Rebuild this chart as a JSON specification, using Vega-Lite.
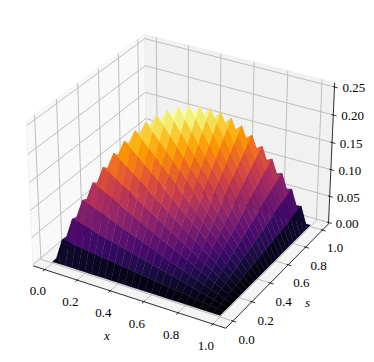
{"$schema":"https://vega.github.io/schema/vega-lite/v6.json","width":374,"height":362,"padding":0,"autosize":{"type":"fit","contains":"padding"},"background":"white","view":{"stroke":null},
"datasets":{"guides":[
{"kind":"pane","id":"a","k":0,"x":-0.0729,"s":-0.0729,"z":-0.0027},{"kind":"pane","id":"a","k":1,"x":-0.0729,"s":1.0729,"z":-0.0027},{"kind":"pane","id":"a","k":2,"x":-0.0729,"s":1.0729,"z":0.2578},{"kind":"pane","id":"a","k":3,"x":-0.0729,"s":-0.0729,"z":0.2578},
{"kind":"pane","id":"b","k":0,"x":-0.0729,"s":1.0729,"z":-0.0027},{"kind":"pane","id":"b","k":1,"x":1.0729,"s":1.0729,"z":-0.0027},{"kind":"pane","id":"b","k":2,"x":1.0729,"s":1.0729,"z":0.2578},{"kind":"pane","id":"b","k":3,"x":-0.0729,"s":1.0729,"z":0.2578},
{"kind":"pane","id":"c","k":0,"x":-0.0729,"s":-0.0729,"z":-0.0027},{"kind":"pane","id":"c","k":1,"x":1.0729,"s":-0.0729,"z":-0.0027},{"kind":"pane","id":"c","k":2,"x":1.0729,"s":1.0729,"z":-0.0027},{"kind":"pane","id":"c","k":3,"x":-0.0729,"s":1.0729,"z":-0.0027},
{"kind":"grid","id":"x0","k":0,"x":0,"s":-0.0729,"z":-0.0027},{"kind":"grid","id":"x0","k":1,"x":0,"s":1.0729,"z":-0.0027},{"kind":"grid","id":"x0","k":2,"x":0,"s":1.0729,"z":0.2578},
{"kind":"grid","id":"x2","k":0,"x":0.2,"s":-0.0729,"z":-0.0027},{"kind":"grid","id":"x2","k":1,"x":0.2,"s":1.0729,"z":-0.0027},{"kind":"grid","id":"x2","k":2,"x":0.2,"s":1.0729,"z":0.2578},
{"kind":"grid","id":"x4","k":0,"x":0.4,"s":-0.0729,"z":-0.0027},{"kind":"grid","id":"x4","k":1,"x":0.4,"s":1.0729,"z":-0.0027},{"kind":"grid","id":"x4","k":2,"x":0.4,"s":1.0729,"z":0.2578},
{"kind":"grid","id":"x6","k":0,"x":0.6,"s":-0.0729,"z":-0.0027},{"kind":"grid","id":"x6","k":1,"x":0.6,"s":1.0729,"z":-0.0027},{"kind":"grid","id":"x6","k":2,"x":0.6,"s":1.0729,"z":0.2578},
{"kind":"grid","id":"x8","k":0,"x":0.8,"s":-0.0729,"z":-0.0027},{"kind":"grid","id":"x8","k":1,"x":0.8,"s":1.0729,"z":-0.0027},{"kind":"grid","id":"x8","k":2,"x":0.8,"s":1.0729,"z":0.2578},
{"kind":"grid","id":"x10","k":0,"x":1,"s":-0.0729,"z":-0.0027},{"kind":"grid","id":"x10","k":1,"x":1,"s":1.0729,"z":-0.0027},{"kind":"grid","id":"x10","k":2,"x":1,"s":1.0729,"z":0.2578},
{"kind":"grid","id":"s0","k":0,"x":1.0729,"s":0,"z":-0.0027},{"kind":"grid","id":"s0","k":1,"x":-0.0729,"s":0,"z":-0.0027},{"kind":"grid","id":"s0","k":2,"x":-0.0729,"s":0,"z":0.2578},
{"kind":"grid","id":"s2","k":0,"x":1.0729,"s":0.2,"z":-0.0027},{"kind":"grid","id":"s2","k":1,"x":-0.0729,"s":0.2,"z":-0.0027},{"kind":"grid","id":"s2","k":2,"x":-0.0729,"s":0.2,"z":0.2578},
{"kind":"grid","id":"s4","k":0,"x":1.0729,"s":0.4,"z":-0.0027},{"kind":"grid","id":"s4","k":1,"x":-0.0729,"s":0.4,"z":-0.0027},{"kind":"grid","id":"s4","k":2,"x":-0.0729,"s":0.4,"z":0.2578},
{"kind":"grid","id":"s6","k":0,"x":1.0729,"s":0.6,"z":-0.0027},{"kind":"grid","id":"s6","k":1,"x":-0.0729,"s":0.6,"z":-0.0027},{"kind":"grid","id":"s6","k":2,"x":-0.0729,"s":0.6,"z":0.2578},
{"kind":"grid","id":"s8","k":0,"x":1.0729,"s":0.8,"z":-0.0027},{"kind":"grid","id":"s8","k":1,"x":-0.0729,"s":0.8,"z":-0.0027},{"kind":"grid","id":"s8","k":2,"x":-0.0729,"s":0.8,"z":0.2578},
{"kind":"grid","id":"s10","k":0,"x":1.0729,"s":1,"z":-0.0027},{"kind":"grid","id":"s10","k":1,"x":-0.0729,"s":1,"z":-0.0027},{"kind":"grid","id":"s10","k":2,"x":-0.0729,"s":1,"z":0.2578},
{"kind":"grid","id":"z0","k":0,"x":-0.0729,"s":-0.0729,"z":0},{"kind":"grid","id":"z0","k":1,"x":-0.0729,"s":1.0729,"z":0},{"kind":"grid","id":"z0","k":2,"x":1.0729,"s":1.0729,"z":0},
{"kind":"grid","id":"z5","k":0,"x":-0.0729,"s":-0.0729,"z":0.05},{"kind":"grid","id":"z5","k":1,"x":-0.0729,"s":1.0729,"z":0.05},{"kind":"grid","id":"z5","k":2,"x":1.0729,"s":1.0729,"z":0.05},
{"kind":"grid","id":"z10","k":0,"x":-0.0729,"s":-0.0729,"z":0.1},{"kind":"grid","id":"z10","k":1,"x":-0.0729,"s":1.0729,"z":0.1},{"kind":"grid","id":"z10","k":2,"x":1.0729,"s":1.0729,"z":0.1},
{"kind":"grid","id":"z15","k":0,"x":-0.0729,"s":-0.0729,"z":0.15},{"kind":"grid","id":"z15","k":1,"x":-0.0729,"s":1.0729,"z":0.15},{"kind":"grid","id":"z15","k":2,"x":1.0729,"s":1.0729,"z":0.15},
{"kind":"grid","id":"z20","k":0,"x":-0.0729,"s":-0.0729,"z":0.2},{"kind":"grid","id":"z20","k":1,"x":-0.0729,"s":1.0729,"z":0.2},{"kind":"grid","id":"z20","k":2,"x":1.0729,"s":1.0729,"z":0.2},
{"kind":"grid","id":"z25","k":0,"x":-0.0729,"s":-0.0729,"z":0.25},{"kind":"grid","id":"z25","k":1,"x":-0.0729,"s":1.0729,"z":0.25},{"kind":"grid","id":"z25","k":2,"x":1.0729,"s":1.0729,"z":0.25},
{"kind":"axis","id":"l","k":0,"x":-0.0729,"s":-0.0729,"z":-0.0027},{"kind":"axis","id":"l","k":1,"x":1.0729,"s":-0.0729,"z":-0.0027},{"kind":"axis","id":"l","k":2,"x":1.0729,"s":1.0729,"z":-0.0027},{"kind":"axis","id":"l","k":3,"x":1.0729,"s":1.0729,"z":0.2578},
{"kind":"axis","id":"tx0","k":0,"x":0,"s":-0.0634,"z":-0.0027},{"kind":"axis","id":"tx0","k":1,"x":0,"s":-0.0919,"z":-0.0027},
{"kind":"axis","id":"tx2","k":0,"x":0.2,"s":-0.0634,"z":-0.0027},{"kind":"axis","id":"tx2","k":1,"x":0.2,"s":-0.0919,"z":-0.0027},
{"kind":"axis","id":"tx4","k":0,"x":0.4,"s":-0.0634,"z":-0.0027},{"kind":"axis","id":"tx4","k":1,"x":0.4,"s":-0.0919,"z":-0.0027},
{"kind":"axis","id":"tx6","k":0,"x":0.6,"s":-0.0634,"z":-0.0027},{"kind":"axis","id":"tx6","k":1,"x":0.6,"s":-0.0919,"z":-0.0027},
{"kind":"axis","id":"tx8","k":0,"x":0.8,"s":-0.0634,"z":-0.0027},{"kind":"axis","id":"tx8","k":1,"x":0.8,"s":-0.0919,"z":-0.0027},
{"kind":"axis","id":"tx10","k":0,"x":1,"s":-0.0634,"z":-0.0027},{"kind":"axis","id":"tx10","k":1,"x":1,"s":-0.0919,"z":-0.0027},
{"kind":"axis","id":"ts0","k":0,"x":1.0634,"s":0,"z":-0.0027},{"kind":"axis","id":"ts0","k":1,"x":1.0919,"s":0,"z":-0.0027},
{"kind":"axis","id":"ts2","k":0,"x":1.0634,"s":0.2,"z":-0.0027},{"kind":"axis","id":"ts2","k":1,"x":1.0919,"s":0.2,"z":-0.0027},
{"kind":"axis","id":"ts4","k":0,"x":1.0634,"s":0.4,"z":-0.0027},{"kind":"axis","id":"ts4","k":1,"x":1.0919,"s":0.4,"z":-0.0027},
{"kind":"axis","id":"ts6","k":0,"x":1.0634,"s":0.6,"z":-0.0027},{"kind":"axis","id":"ts6","k":1,"x":1.0919,"s":0.6,"z":-0.0027},
{"kind":"axis","id":"ts8","k":0,"x":1.0634,"s":0.8,"z":-0.0027},{"kind":"axis","id":"ts8","k":1,"x":1.0919,"s":0.8,"z":-0.0027},
{"kind":"axis","id":"ts10","k":0,"x":1.0634,"s":1,"z":-0.0027},{"kind":"axis","id":"ts10","k":1,"x":1.0919,"s":1,"z":-0.0027},
{"kind":"axis","id":"tz0","k":0,"x":1.0634,"s":1.0729,"z":0},{"kind":"axis","id":"tz0","k":1,"x":1.0919,"s":1.0729,"z":0},
{"kind":"axis","id":"tz5","k":0,"x":1.0634,"s":1.0729,"z":0.05},{"kind":"axis","id":"tz5","k":1,"x":1.0919,"s":1.0729,"z":0.05},
{"kind":"axis","id":"tz10","k":0,"x":1.0634,"s":1.0729,"z":0.1},{"kind":"axis","id":"tz10","k":1,"x":1.0919,"s":1.0729,"z":0.1},
{"kind":"axis","id":"tz15","k":0,"x":1.0634,"s":1.0729,"z":0.15},{"kind":"axis","id":"tz15","k":1,"x":1.0919,"s":1.0729,"z":0.15},
{"kind":"axis","id":"tz20","k":0,"x":1.0634,"s":1.0729,"z":0.2},{"kind":"axis","id":"tz20","k":1,"x":1.0919,"s":1.0729,"z":0.2},
{"kind":"axis","id":"tz25","k":0,"x":1.0634,"s":1.0729,"z":0.25},{"kind":"axis","id":"tz25","k":1,"x":1.0919,"s":1.0729,"z":0.25},
{"kind":"label","label":"0.0","x":0,"s":-0.143,"z":-0.031},{"kind":"label","label":"0.2","x":0.2,"s":-0.143,"z":-0.031},{"kind":"label","label":"0.4","x":0.4,"s":-0.143,"z":-0.031},{"kind":"label","label":"0.6","x":0.6,"s":-0.143,"z":-0.031},{"kind":"label","label":"0.8","x":0.8,"s":-0.143,"z":-0.031},{"kind":"label","label":"1.0","x":1,"s":-0.143,"z":-0.031},
{"kind":"label","label":"0.0","x":1.153,"s":0,"z":-0.03},{"kind":"label","label":"0.2","x":1.153,"s":0.2,"z":-0.03},{"kind":"label","label":"0.4","x":1.153,"s":0.4,"z":-0.03},{"kind":"label","label":"0.6","x":1.153,"s":0.6,"z":-0.03},{"kind":"label","label":"0.8","x":1.153,"s":0.8,"z":-0.03},{"kind":"label","label":"1.0","x":1.153,"s":1,"z":-0.03},
{"kind":"label","label":"0.00","x":1.183,"s":1.0729,"z":0.007},{"kind":"label","label":"0.05","x":1.183,"s":1.0729,"z":0.057},{"kind":"label","label":"0.10","x":1.183,"s":1.0729,"z":0.107},{"kind":"label","label":"0.15","x":1.183,"s":1.0729,"z":0.157},{"kind":"label","label":"0.20","x":1.183,"s":1.0729,"z":0.207},{"kind":"label","label":"0.25","x":1.183,"s":1.0729,"z":0.257},
{"kind":"title","label":"x","x":0.5,"s":-0.27,"z":-0.041},{"kind":"title","label":"s","x":1.24,"s":0.5,"z":-0.041}
],
"grid":[
{"x":0,"s":1,"z":0},{"x":0.04,"s":1,"z":0},{"x":0.08,"s":1,"z":0},{"x":0.12,"s":1,"z":0},{"x":0.16,"s":1,"z":0},{"x":0.2,"s":1,"z":0},{"x":0.24,"s":1,"z":0},{"x":0.28,"s":1,"z":0},{"x":0.32,"s":1,"z":0},{"x":0.36,"s":1,"z":0},{"x":0.4,"s":1,"z":0},{"x":0.44,"s":1,"z":0},{"x":0.48,"s":1,"z":0},{"x":0.52,"s":1,"z":0},{"x":0.56,"s":1,"z":0},{"x":0.6,"s":1,"z":0},{"x":0.64,"s":1,"z":0},{"x":0.68,"s":1,"z":0},{"x":0.72,"s":1,"z":0},{"x":0.76,"s":1,"z":0},{"x":0.8,"s":1,"z":0},{"x":0.84,"s":1,"z":0},{"x":0.88,"s":1,"z":0},{"x":0.92,"s":1,"z":0},{"x":0.96,"s":1,"z":0},{"x":1,"s":1,"z":0},
{"x":0,"s":0.96,"z":0},{"x":0.04,"s":0.96,"z":0.0016},{"x":0.08,"s":0.96,"z":0.0032},{"x":0.12,"s":0.96,"z":0.0048},{"x":0.16,"s":0.96,"z":0.0064},{"x":0.2,"s":0.96,"z":0.008},{"x":0.24,"s":0.96,"z":0.0096},{"x":0.28,"s":0.96,"z":0.0112},{"x":0.32,"s":0.96,"z":0.0128},{"x":0.36,"s":0.96,"z":0.0144},{"x":0.4,"s":0.96,"z":0.016},{"x":0.44,"s":0.96,"z":0.0176},{"x":0.48,"s":0.96,"z":0.0192},{"x":0.52,"s":0.96,"z":0.0208},{"x":0.56,"s":0.96,"z":0.0224},{"x":0.6,"s":0.96,"z":0.024},{"x":0.64,"s":0.96,"z":0.0256},{"x":0.68,"s":0.96,"z":0.0272},{"x":0.72,"s":0.96,"z":0.0288},{"x":0.76,"s":0.96,"z":0.0304},{"x":0.8,"s":0.96,"z":0.032},{"x":0.84,"s":0.96,"z":0.0336},{"x":0.88,"s":0.96,"z":0.0352},{"x":0.92,"s":0.96,"z":0.0368},{"x":0.96,"s":0.96,"z":0.0384},{"x":1,"s":0.96,"z":0},
{"x":0,"s":0.92,"z":0},{"x":0.04,"s":0.92,"z":0.0032},{"x":0.08,"s":0.92,"z":0.0064},{"x":0.12,"s":0.92,"z":0.0096},{"x":0.16,"s":0.92,"z":0.0128},{"x":0.2,"s":0.92,"z":0.016},{"x":0.24,"s":0.92,"z":0.0192},{"x":0.28,"s":0.92,"z":0.0224},{"x":0.32,"s":0.92,"z":0.0256},{"x":0.36,"s":0.92,"z":0.0288},{"x":0.4,"s":0.92,"z":0.032},{"x":0.44,"s":0.92,"z":0.0352},{"x":0.48,"s":0.92,"z":0.0384},{"x":0.52,"s":0.92,"z":0.0416},{"x":0.56,"s":0.92,"z":0.0448},{"x":0.6,"s":0.92,"z":0.048},{"x":0.64,"s":0.92,"z":0.0512},{"x":0.68,"s":0.92,"z":0.0544},{"x":0.72,"s":0.92,"z":0.0576},{"x":0.76,"s":0.92,"z":0.0608},{"x":0.8,"s":0.92,"z":0.064},{"x":0.84,"s":0.92,"z":0.0672},{"x":0.88,"s":0.92,"z":0.0704},{"x":0.92,"s":0.92,"z":0.0736},{"x":0.96,"s":0.92,"z":0.0368},{"x":1,"s":0.92,"z":0},
{"x":0,"s":0.88,"z":0},{"x":0.04,"s":0.88,"z":0.0048},{"x":0.08,"s":0.88,"z":0.0096},{"x":0.12,"s":0.88,"z":0.0144},{"x":0.16,"s":0.88,"z":0.0192},{"x":0.2,"s":0.88,"z":0.024},{"x":0.24,"s":0.88,"z":0.0288},{"x":0.28,"s":0.88,"z":0.0336},{"x":0.32,"s":0.88,"z":0.0384},{"x":0.36,"s":0.88,"z":0.0432},{"x":0.4,"s":0.88,"z":0.048},{"x":0.44,"s":0.88,"z":0.0528},{"x":0.48,"s":0.88,"z":0.0576},{"x":0.52,"s":0.88,"z":0.0624},{"x":0.56,"s":0.88,"z":0.0672},{"x":0.6,"s":0.88,"z":0.072},{"x":0.64,"s":0.88,"z":0.0768},{"x":0.68,"s":0.88,"z":0.0816},{"x":0.72,"s":0.88,"z":0.0864},{"x":0.76,"s":0.88,"z":0.0912},{"x":0.8,"s":0.88,"z":0.096},{"x":0.84,"s":0.88,"z":0.1008},{"x":0.88,"s":0.88,"z":0.1056},{"x":0.92,"s":0.88,"z":0.0704},{"x":0.96,"s":0.88,"z":0.0352},{"x":1,"s":0.88,"z":0},
{"x":0,"s":0.84,"z":0},{"x":0.04,"s":0.84,"z":0.0064},{"x":0.08,"s":0.84,"z":0.0128},{"x":0.12,"s":0.84,"z":0.0192},{"x":0.16,"s":0.84,"z":0.0256},{"x":0.2,"s":0.84,"z":0.032},{"x":0.24,"s":0.84,"z":0.0384},{"x":0.28,"s":0.84,"z":0.0448},{"x":0.32,"s":0.84,"z":0.0512},{"x":0.36,"s":0.84,"z":0.0576},{"x":0.4,"s":0.84,"z":0.064},{"x":0.44,"s":0.84,"z":0.0704},{"x":0.48,"s":0.84,"z":0.0768},{"x":0.52,"s":0.84,"z":0.0832},{"x":0.56,"s":0.84,"z":0.0896},{"x":0.6,"s":0.84,"z":0.096},{"x":0.64,"s":0.84,"z":0.1024},{"x":0.68,"s":0.84,"z":0.1088},{"x":0.72,"s":0.84,"z":0.1152},{"x":0.76,"s":0.84,"z":0.1216},{"x":0.8,"s":0.84,"z":0.128},{"x":0.84,"s":0.84,"z":0.1344},{"x":0.88,"s":0.84,"z":0.1008},{"x":0.92,"s":0.84,"z":0.0672},{"x":0.96,"s":0.84,"z":0.0336},{"x":1,"s":0.84,"z":0},
{"x":0,"s":0.8,"z":0},{"x":0.04,"s":0.8,"z":0.008},{"x":0.08,"s":0.8,"z":0.016},{"x":0.12,"s":0.8,"z":0.024},{"x":0.16,"s":0.8,"z":0.032},{"x":0.2,"s":0.8,"z":0.04},{"x":0.24,"s":0.8,"z":0.048},{"x":0.28,"s":0.8,"z":0.056},{"x":0.32,"s":0.8,"z":0.064},{"x":0.36,"s":0.8,"z":0.072},{"x":0.4,"s":0.8,"z":0.08},{"x":0.44,"s":0.8,"z":0.088},{"x":0.48,"s":0.8,"z":0.096},{"x":0.52,"s":0.8,"z":0.104},{"x":0.56,"s":0.8,"z":0.112},{"x":0.6,"s":0.8,"z":0.12},{"x":0.64,"s":0.8,"z":0.128},{"x":0.68,"s":0.8,"z":0.136},{"x":0.72,"s":0.8,"z":0.144},{"x":0.76,"s":0.8,"z":0.152},{"x":0.8,"s":0.8,"z":0.16},{"x":0.84,"s":0.8,"z":0.128},{"x":0.88,"s":0.8,"z":0.096},{"x":0.92,"s":0.8,"z":0.064},{"x":0.96,"s":0.8,"z":0.032},{"x":1,"s":0.8,"z":0},
{"x":0,"s":0.76,"z":0},{"x":0.04,"s":0.76,"z":0.0096},{"x":0.08,"s":0.76,"z":0.0192},{"x":0.12,"s":0.76,"z":0.0288},{"x":0.16,"s":0.76,"z":0.0384},{"x":0.2,"s":0.76,"z":0.048},{"x":0.24,"s":0.76,"z":0.0576},{"x":0.28,"s":0.76,"z":0.0672},{"x":0.32,"s":0.76,"z":0.0768},{"x":0.36,"s":0.76,"z":0.0864},{"x":0.4,"s":0.76,"z":0.096},{"x":0.44,"s":0.76,"z":0.1056},{"x":0.48,"s":0.76,"z":0.1152},{"x":0.52,"s":0.76,"z":0.1248},{"x":0.56,"s":0.76,"z":0.1344},{"x":0.6,"s":0.76,"z":0.144},{"x":0.64,"s":0.76,"z":0.1536},{"x":0.68,"s":0.76,"z":0.1632},{"x":0.72,"s":0.76,"z":0.1728},{"x":0.76,"s":0.76,"z":0.1824},{"x":0.8,"s":0.76,"z":0.152},{"x":0.84,"s":0.76,"z":0.1216},{"x":0.88,"s":0.76,"z":0.0912},{"x":0.92,"s":0.76,"z":0.0608},{"x":0.96,"s":0.76,"z":0.0304},{"x":1,"s":0.76,"z":0},
{"x":0,"s":0.72,"z":0},{"x":0.04,"s":0.72,"z":0.0112},{"x":0.08,"s":0.72,"z":0.0224},{"x":0.12,"s":0.72,"z":0.0336},{"x":0.16,"s":0.72,"z":0.0448},{"x":0.2,"s":0.72,"z":0.056},{"x":0.24,"s":0.72,"z":0.0672},{"x":0.28,"s":0.72,"z":0.0784},{"x":0.32,"s":0.72,"z":0.0896},{"x":0.36,"s":0.72,"z":0.1008},{"x":0.4,"s":0.72,"z":0.112},{"x":0.44,"s":0.72,"z":0.1232},{"x":0.48,"s":0.72,"z":0.1344},{"x":0.52,"s":0.72,"z":0.1456},{"x":0.56,"s":0.72,"z":0.1568},{"x":0.6,"s":0.72,"z":0.168},{"x":0.64,"s":0.72,"z":0.1792},{"x":0.68,"s":0.72,"z":0.1904},{"x":0.72,"s":0.72,"z":0.2016},{"x":0.76,"s":0.72,"z":0.1728},{"x":0.8,"s":0.72,"z":0.144},{"x":0.84,"s":0.72,"z":0.1152},{"x":0.88,"s":0.72,"z":0.0864},{"x":0.92,"s":0.72,"z":0.0576},{"x":0.96,"s":0.72,"z":0.0288},{"x":1,"s":0.72,"z":0},
{"x":0,"s":0.68,"z":0},{"x":0.04,"s":0.68,"z":0.0128},{"x":0.08,"s":0.68,"z":0.0256},{"x":0.12,"s":0.68,"z":0.0384},{"x":0.16,"s":0.68,"z":0.0512},{"x":0.2,"s":0.68,"z":0.064},{"x":0.24,"s":0.68,"z":0.0768},{"x":0.28,"s":0.68,"z":0.0896},{"x":0.32,"s":0.68,"z":0.1024},{"x":0.36,"s":0.68,"z":0.1152},{"x":0.4,"s":0.68,"z":0.128},{"x":0.44,"s":0.68,"z":0.1408},{"x":0.48,"s":0.68,"z":0.1536},{"x":0.52,"s":0.68,"z":0.1664},{"x":0.56,"s":0.68,"z":0.1792},{"x":0.6,"s":0.68,"z":0.192},{"x":0.64,"s":0.68,"z":0.2048},{"x":0.68,"s":0.68,"z":0.2176},{"x":0.72,"s":0.68,"z":0.1904},{"x":0.76,"s":0.68,"z":0.1632},{"x":0.8,"s":0.68,"z":0.136},{"x":0.84,"s":0.68,"z":0.1088},{"x":0.88,"s":0.68,"z":0.0816},{"x":0.92,"s":0.68,"z":0.0544},{"x":0.96,"s":0.68,"z":0.0272},{"x":1,"s":0.68,"z":0},
{"x":0,"s":0.64,"z":0},{"x":0.04,"s":0.64,"z":0.0144},{"x":0.08,"s":0.64,"z":0.0288},{"x":0.12,"s":0.64,"z":0.0432},{"x":0.16,"s":0.64,"z":0.0576},{"x":0.2,"s":0.64,"z":0.072},{"x":0.24,"s":0.64,"z":0.0864},{"x":0.28,"s":0.64,"z":0.1008},{"x":0.32,"s":0.64,"z":0.1152},{"x":0.36,"s":0.64,"z":0.1296},{"x":0.4,"s":0.64,"z":0.144},{"x":0.44,"s":0.64,"z":0.1584},{"x":0.48,"s":0.64,"z":0.1728},{"x":0.52,"s":0.64,"z":0.1872},{"x":0.56,"s":0.64,"z":0.2016},{"x":0.6,"s":0.64,"z":0.216},{"x":0.64,"s":0.64,"z":0.2304},{"x":0.68,"s":0.64,"z":0.2048},{"x":0.72,"s":0.64,"z":0.1792},{"x":0.76,"s":0.64,"z":0.1536},{"x":0.8,"s":0.64,"z":0.128},{"x":0.84,"s":0.64,"z":0.1024},{"x":0.88,"s":0.64,"z":0.0768},{"x":0.92,"s":0.64,"z":0.0512},{"x":0.96,"s":0.64,"z":0.0256},{"x":1,"s":0.64,"z":0},
{"x":0,"s":0.6,"z":0},{"x":0.04,"s":0.6,"z":0.016},{"x":0.08,"s":0.6,"z":0.032},{"x":0.12,"s":0.6,"z":0.048},{"x":0.16,"s":0.6,"z":0.064},{"x":0.2,"s":0.6,"z":0.08},{"x":0.24,"s":0.6,"z":0.096},{"x":0.28,"s":0.6,"z":0.112},{"x":0.32,"s":0.6,"z":0.128},{"x":0.36,"s":0.6,"z":0.144},{"x":0.4,"s":0.6,"z":0.16},{"x":0.44,"s":0.6,"z":0.176},{"x":0.48,"s":0.6,"z":0.192},{"x":0.52,"s":0.6,"z":0.208},{"x":0.56,"s":0.6,"z":0.224},{"x":0.6,"s":0.6,"z":0.24},{"x":0.64,"s":0.6,"z":0.216},{"x":0.68,"s":0.6,"z":0.192},{"x":0.72,"s":0.6,"z":0.168},{"x":0.76,"s":0.6,"z":0.144},{"x":0.8,"s":0.6,"z":0.12},{"x":0.84,"s":0.6,"z":0.096},{"x":0.88,"s":0.6,"z":0.072},{"x":0.92,"s":0.6,"z":0.048},{"x":0.96,"s":0.6,"z":0.024},{"x":1,"s":0.6,"z":0},
{"x":0,"s":0.56,"z":0},{"x":0.04,"s":0.56,"z":0.0176},{"x":0.08,"s":0.56,"z":0.0352},{"x":0.12,"s":0.56,"z":0.0528},{"x":0.16,"s":0.56,"z":0.0704},{"x":0.2,"s":0.56,"z":0.088},{"x":0.24,"s":0.56,"z":0.1056},{"x":0.28,"s":0.56,"z":0.1232},{"x":0.32,"s":0.56,"z":0.1408},{"x":0.36,"s":0.56,"z":0.1584},{"x":0.4,"s":0.56,"z":0.176},{"x":0.44,"s":0.56,"z":0.1936},{"x":0.48,"s":0.56,"z":0.2112},{"x":0.52,"s":0.56,"z":0.2288},{"x":0.56,"s":0.56,"z":0.2464},{"x":0.6,"s":0.56,"z":0.224},{"x":0.64,"s":0.56,"z":0.2016},{"x":0.68,"s":0.56,"z":0.1792},{"x":0.72,"s":0.56,"z":0.1568},{"x":0.76,"s":0.56,"z":0.1344},{"x":0.8,"s":0.56,"z":0.112},{"x":0.84,"s":0.56,"z":0.0896},{"x":0.88,"s":0.56,"z":0.0672},{"x":0.92,"s":0.56,"z":0.0448},{"x":0.96,"s":0.56,"z":0.0224},{"x":1,"s":0.56,"z":0},
{"x":0,"s":0.52,"z":0},{"x":0.04,"s":0.52,"z":0.0192},{"x":0.08,"s":0.52,"z":0.0384},{"x":0.12,"s":0.52,"z":0.0576},{"x":0.16,"s":0.52,"z":0.0768},{"x":0.2,"s":0.52,"z":0.096},{"x":0.24,"s":0.52,"z":0.1152},{"x":0.28,"s":0.52,"z":0.1344},{"x":0.32,"s":0.52,"z":0.1536},{"x":0.36,"s":0.52,"z":0.1728},{"x":0.4,"s":0.52,"z":0.192},{"x":0.44,"s":0.52,"z":0.2112},{"x":0.48,"s":0.52,"z":0.2304},{"x":0.52,"s":0.52,"z":0.2496},{"x":0.56,"s":0.52,"z":0.2288},{"x":0.6,"s":0.52,"z":0.208},{"x":0.64,"s":0.52,"z":0.1872},{"x":0.68,"s":0.52,"z":0.1664},{"x":0.72,"s":0.52,"z":0.1456},{"x":0.76,"s":0.52,"z":0.1248},{"x":0.8,"s":0.52,"z":0.104},{"x":0.84,"s":0.52,"z":0.0832},{"x":0.88,"s":0.52,"z":0.0624},{"x":0.92,"s":0.52,"z":0.0416},{"x":0.96,"s":0.52,"z":0.0208},{"x":1,"s":0.52,"z":0},
{"x":0,"s":0.48,"z":0},{"x":0.04,"s":0.48,"z":0.0208},{"x":0.08,"s":0.48,"z":0.0416},{"x":0.12,"s":0.48,"z":0.0624},{"x":0.16,"s":0.48,"z":0.0832},{"x":0.2,"s":0.48,"z":0.104},{"x":0.24,"s":0.48,"z":0.1248},{"x":0.28,"s":0.48,"z":0.1456},{"x":0.32,"s":0.48,"z":0.1664},{"x":0.36,"s":0.48,"z":0.1872},{"x":0.4,"s":0.48,"z":0.208},{"x":0.44,"s":0.48,"z":0.2288},{"x":0.48,"s":0.48,"z":0.2496},{"x":0.52,"s":0.48,"z":0.2304},{"x":0.56,"s":0.48,"z":0.2112},{"x":0.6,"s":0.48,"z":0.192},{"x":0.64,"s":0.48,"z":0.1728},{"x":0.68,"s":0.48,"z":0.1536},{"x":0.72,"s":0.48,"z":0.1344},{"x":0.76,"s":0.48,"z":0.1152},{"x":0.8,"s":0.48,"z":0.096},{"x":0.84,"s":0.48,"z":0.0768},{"x":0.88,"s":0.48,"z":0.0576},{"x":0.92,"s":0.48,"z":0.0384},{"x":0.96,"s":0.48,"z":0.0192},{"x":1,"s":0.48,"z":0},
{"x":0,"s":0.44,"z":0},{"x":0.04,"s":0.44,"z":0.0224},{"x":0.08,"s":0.44,"z":0.0448},{"x":0.12,"s":0.44,"z":0.0672},{"x":0.16,"s":0.44,"z":0.0896},{"x":0.2,"s":0.44,"z":0.112},{"x":0.24,"s":0.44,"z":0.1344},{"x":0.28,"s":0.44,"z":0.1568},{"x":0.32,"s":0.44,"z":0.1792},{"x":0.36,"s":0.44,"z":0.2016},{"x":0.4,"s":0.44,"z":0.224},{"x":0.44,"s":0.44,"z":0.2464},{"x":0.48,"s":0.44,"z":0.2288},{"x":0.52,"s":0.44,"z":0.2112},{"x":0.56,"s":0.44,"z":0.1936},{"x":0.6,"s":0.44,"z":0.176},{"x":0.64,"s":0.44,"z":0.1584},{"x":0.68,"s":0.44,"z":0.1408},{"x":0.72,"s":0.44,"z":0.1232},{"x":0.76,"s":0.44,"z":0.1056},{"x":0.8,"s":0.44,"z":0.088},{"x":0.84,"s":0.44,"z":0.0704},{"x":0.88,"s":0.44,"z":0.0528},{"x":0.92,"s":0.44,"z":0.0352},{"x":0.96,"s":0.44,"z":0.0176},{"x":1,"s":0.44,"z":0},
{"x":0,"s":0.4,"z":0},{"x":0.04,"s":0.4,"z":0.024},{"x":0.08,"s":0.4,"z":0.048},{"x":0.12,"s":0.4,"z":0.072},{"x":0.16,"s":0.4,"z":0.096},{"x":0.2,"s":0.4,"z":0.12},{"x":0.24,"s":0.4,"z":0.144},{"x":0.28,"s":0.4,"z":0.168},{"x":0.32,"s":0.4,"z":0.192},{"x":0.36,"s":0.4,"z":0.216},{"x":0.4,"s":0.4,"z":0.24},{"x":0.44,"s":0.4,"z":0.224},{"x":0.48,"s":0.4,"z":0.208},{"x":0.52,"s":0.4,"z":0.192},{"x":0.56,"s":0.4,"z":0.176},{"x":0.6,"s":0.4,"z":0.16},{"x":0.64,"s":0.4,"z":0.144},{"x":0.68,"s":0.4,"z":0.128},{"x":0.72,"s":0.4,"z":0.112},{"x":0.76,"s":0.4,"z":0.096},{"x":0.8,"s":0.4,"z":0.08},{"x":0.84,"s":0.4,"z":0.064},{"x":0.88,"s":0.4,"z":0.048},{"x":0.92,"s":0.4,"z":0.032},{"x":0.96,"s":0.4,"z":0.016},{"x":1,"s":0.4,"z":0},
{"x":0,"s":0.36,"z":0},{"x":0.04,"s":0.36,"z":0.0256},{"x":0.08,"s":0.36,"z":0.0512},{"x":0.12,"s":0.36,"z":0.0768},{"x":0.16,"s":0.36,"z":0.1024},{"x":0.2,"s":0.36,"z":0.128},{"x":0.24,"s":0.36,"z":0.1536},{"x":0.28,"s":0.36,"z":0.1792},{"x":0.32,"s":0.36,"z":0.2048},{"x":0.36,"s":0.36,"z":0.2304},{"x":0.4,"s":0.36,"z":0.216},{"x":0.44,"s":0.36,"z":0.2016},{"x":0.48,"s":0.36,"z":0.1872},{"x":0.52,"s":0.36,"z":0.1728},{"x":0.56,"s":0.36,"z":0.1584},{"x":0.6,"s":0.36,"z":0.144},{"x":0.64,"s":0.36,"z":0.1296},{"x":0.68,"s":0.36,"z":0.1152},{"x":0.72,"s":0.36,"z":0.1008},{"x":0.76,"s":0.36,"z":0.0864},{"x":0.8,"s":0.36,"z":0.072},{"x":0.84,"s":0.36,"z":0.0576},{"x":0.88,"s":0.36,"z":0.0432},{"x":0.92,"s":0.36,"z":0.0288},{"x":0.96,"s":0.36,"z":0.0144},{"x":1,"s":0.36,"z":0},
{"x":0,"s":0.32,"z":0},{"x":0.04,"s":0.32,"z":0.0272},{"x":0.08,"s":0.32,"z":0.0544},{"x":0.12,"s":0.32,"z":0.0816},{"x":0.16,"s":0.32,"z":0.1088},{"x":0.2,"s":0.32,"z":0.136},{"x":0.24,"s":0.32,"z":0.1632},{"x":0.28,"s":0.32,"z":0.1904},{"x":0.32,"s":0.32,"z":0.2176},{"x":0.36,"s":0.32,"z":0.2048},{"x":0.4,"s":0.32,"z":0.192},{"x":0.44,"s":0.32,"z":0.1792},{"x":0.48,"s":0.32,"z":0.1664},{"x":0.52,"s":0.32,"z":0.1536},{"x":0.56,"s":0.32,"z":0.1408},{"x":0.6,"s":0.32,"z":0.128},{"x":0.64,"s":0.32,"z":0.1152},{"x":0.68,"s":0.32,"z":0.1024},{"x":0.72,"s":0.32,"z":0.0896},{"x":0.76,"s":0.32,"z":0.0768},{"x":0.8,"s":0.32,"z":0.064},{"x":0.84,"s":0.32,"z":0.0512},{"x":0.88,"s":0.32,"z":0.0384},{"x":0.92,"s":0.32,"z":0.0256},{"x":0.96,"s":0.32,"z":0.0128},{"x":1,"s":0.32,"z":0},
{"x":0,"s":0.28,"z":0},{"x":0.04,"s":0.28,"z":0.0288},{"x":0.08,"s":0.28,"z":0.0576},{"x":0.12,"s":0.28,"z":0.0864},{"x":0.16,"s":0.28,"z":0.1152},{"x":0.2,"s":0.28,"z":0.144},{"x":0.24,"s":0.28,"z":0.1728},{"x":0.28,"s":0.28,"z":0.2016},{"x":0.32,"s":0.28,"z":0.1904},{"x":0.36,"s":0.28,"z":0.1792},{"x":0.4,"s":0.28,"z":0.168},{"x":0.44,"s":0.28,"z":0.1568},{"x":0.48,"s":0.28,"z":0.1456},{"x":0.52,"s":0.28,"z":0.1344},{"x":0.56,"s":0.28,"z":0.1232},{"x":0.6,"s":0.28,"z":0.112},{"x":0.64,"s":0.28,"z":0.1008},{"x":0.68,"s":0.28,"z":0.0896},{"x":0.72,"s":0.28,"z":0.0784},{"x":0.76,"s":0.28,"z":0.0672},{"x":0.8,"s":0.28,"z":0.056},{"x":0.84,"s":0.28,"z":0.0448},{"x":0.88,"s":0.28,"z":0.0336},{"x":0.92,"s":0.28,"z":0.0224},{"x":0.96,"s":0.28,"z":0.0112},{"x":1,"s":0.28,"z":0},
{"x":0,"s":0.24,"z":0},{"x":0.04,"s":0.24,"z":0.0304},{"x":0.08,"s":0.24,"z":0.0608},{"x":0.12,"s":0.24,"z":0.0912},{"x":0.16,"s":0.24,"z":0.1216},{"x":0.2,"s":0.24,"z":0.152},{"x":0.24,"s":0.24,"z":0.1824},{"x":0.28,"s":0.24,"z":0.1728},{"x":0.32,"s":0.24,"z":0.1632},{"x":0.36,"s":0.24,"z":0.1536},{"x":0.4,"s":0.24,"z":0.144},{"x":0.44,"s":0.24,"z":0.1344},{"x":0.48,"s":0.24,"z":0.1248},{"x":0.52,"s":0.24,"z":0.1152},{"x":0.56,"s":0.24,"z":0.1056},{"x":0.6,"s":0.24,"z":0.096},{"x":0.64,"s":0.24,"z":0.0864},{"x":0.68,"s":0.24,"z":0.0768},{"x":0.72,"s":0.24,"z":0.0672},{"x":0.76,"s":0.24,"z":0.0576},{"x":0.8,"s":0.24,"z":0.048},{"x":0.84,"s":0.24,"z":0.0384},{"x":0.88,"s":0.24,"z":0.0288},{"x":0.92,"s":0.24,"z":0.0192},{"x":0.96,"s":0.24,"z":0.0096},{"x":1,"s":0.24,"z":0},
{"x":0,"s":0.2,"z":0},{"x":0.04,"s":0.2,"z":0.032},{"x":0.08,"s":0.2,"z":0.064},{"x":0.12,"s":0.2,"z":0.096},{"x":0.16,"s":0.2,"z":0.128},{"x":0.2,"s":0.2,"z":0.16},{"x":0.24,"s":0.2,"z":0.152},{"x":0.28,"s":0.2,"z":0.144},{"x":0.32,"s":0.2,"z":0.136},{"x":0.36,"s":0.2,"z":0.128},{"x":0.4,"s":0.2,"z":0.12},{"x":0.44,"s":0.2,"z":0.112},{"x":0.48,"s":0.2,"z":0.104},{"x":0.52,"s":0.2,"z":0.096},{"x":0.56,"s":0.2,"z":0.088},{"x":0.6,"s":0.2,"z":0.08},{"x":0.64,"s":0.2,"z":0.072},{"x":0.68,"s":0.2,"z":0.064},{"x":0.72,"s":0.2,"z":0.056},{"x":0.76,"s":0.2,"z":0.048},{"x":0.8,"s":0.2,"z":0.04},{"x":0.84,"s":0.2,"z":0.032},{"x":0.88,"s":0.2,"z":0.024},{"x":0.92,"s":0.2,"z":0.016},{"x":0.96,"s":0.2,"z":0.008},{"x":1,"s":0.2,"z":0},
{"x":0,"s":0.16,"z":0},{"x":0.04,"s":0.16,"z":0.0336},{"x":0.08,"s":0.16,"z":0.0672},{"x":0.12,"s":0.16,"z":0.1008},{"x":0.16,"s":0.16,"z":0.1344},{"x":0.2,"s":0.16,"z":0.128},{"x":0.24,"s":0.16,"z":0.1216},{"x":0.28,"s":0.16,"z":0.1152},{"x":0.32,"s":0.16,"z":0.1088},{"x":0.36,"s":0.16,"z":0.1024},{"x":0.4,"s":0.16,"z":0.096},{"x":0.44,"s":0.16,"z":0.0896},{"x":0.48,"s":0.16,"z":0.0832},{"x":0.52,"s":0.16,"z":0.0768},{"x":0.56,"s":0.16,"z":0.0704},{"x":0.6,"s":0.16,"z":0.064},{"x":0.64,"s":0.16,"z":0.0576},{"x":0.68,"s":0.16,"z":0.0512},{"x":0.72,"s":0.16,"z":0.0448},{"x":0.76,"s":0.16,"z":0.0384},{"x":0.8,"s":0.16,"z":0.032},{"x":0.84,"s":0.16,"z":0.0256},{"x":0.88,"s":0.16,"z":0.0192},{"x":0.92,"s":0.16,"z":0.0128},{"x":0.96,"s":0.16,"z":0.0064},{"x":1,"s":0.16,"z":0},
{"x":0,"s":0.12,"z":0},{"x":0.04,"s":0.12,"z":0.0352},{"x":0.08,"s":0.12,"z":0.0704},{"x":0.12,"s":0.12,"z":0.1056},{"x":0.16,"s":0.12,"z":0.1008},{"x":0.2,"s":0.12,"z":0.096},{"x":0.24,"s":0.12,"z":0.0912},{"x":0.28,"s":0.12,"z":0.0864},{"x":0.32,"s":0.12,"z":0.0816},{"x":0.36,"s":0.12,"z":0.0768},{"x":0.4,"s":0.12,"z":0.072},{"x":0.44,"s":0.12,"z":0.0672},{"x":0.48,"s":0.12,"z":0.0624},{"x":0.52,"s":0.12,"z":0.0576},{"x":0.56,"s":0.12,"z":0.0528},{"x":0.6,"s":0.12,"z":0.048},{"x":0.64,"s":0.12,"z":0.0432},{"x":0.68,"s":0.12,"z":0.0384},{"x":0.72,"s":0.12,"z":0.0336},{"x":0.76,"s":0.12,"z":0.0288},{"x":0.8,"s":0.12,"z":0.024},{"x":0.84,"s":0.12,"z":0.0192},{"x":0.88,"s":0.12,"z":0.0144},{"x":0.92,"s":0.12,"z":0.0096},{"x":0.96,"s":0.12,"z":0.0048},{"x":1,"s":0.12,"z":0},
{"x":0,"s":0.08,"z":0},{"x":0.04,"s":0.08,"z":0.0368},{"x":0.08,"s":0.08,"z":0.0736},{"x":0.12,"s":0.08,"z":0.0704},{"x":0.16,"s":0.08,"z":0.0672},{"x":0.2,"s":0.08,"z":0.064},{"x":0.24,"s":0.08,"z":0.0608},{"x":0.28,"s":0.08,"z":0.0576},{"x":0.32,"s":0.08,"z":0.0544},{"x":0.36,"s":0.08,"z":0.0512},{"x":0.4,"s":0.08,"z":0.048},{"x":0.44,"s":0.08,"z":0.0448},{"x":0.48,"s":0.08,"z":0.0416},{"x":0.52,"s":0.08,"z":0.0384},{"x":0.56,"s":0.08,"z":0.0352},{"x":0.6,"s":0.08,"z":0.032},{"x":0.64,"s":0.08,"z":0.0288},{"x":0.68,"s":0.08,"z":0.0256},{"x":0.72,"s":0.08,"z":0.0224},{"x":0.76,"s":0.08,"z":0.0192},{"x":0.8,"s":0.08,"z":0.016},{"x":0.84,"s":0.08,"z":0.0128},{"x":0.88,"s":0.08,"z":0.0096},{"x":0.92,"s":0.08,"z":0.0064},{"x":0.96,"s":0.08,"z":0.0032},{"x":1,"s":0.08,"z":0},
{"x":0,"s":0.04,"z":0},{"x":0.04,"s":0.04,"z":0.0384},{"x":0.08,"s":0.04,"z":0.0368},{"x":0.12,"s":0.04,"z":0.0352},{"x":0.16,"s":0.04,"z":0.0336},{"x":0.2,"s":0.04,"z":0.032},{"x":0.24,"s":0.04,"z":0.0304},{"x":0.28,"s":0.04,"z":0.0288},{"x":0.32,"s":0.04,"z":0.0272},{"x":0.36,"s":0.04,"z":0.0256},{"x":0.4,"s":0.04,"z":0.024},{"x":0.44,"s":0.04,"z":0.0224},{"x":0.48,"s":0.04,"z":0.0208},{"x":0.52,"s":0.04,"z":0.0192},{"x":0.56,"s":0.04,"z":0.0176},{"x":0.6,"s":0.04,"z":0.016},{"x":0.64,"s":0.04,"z":0.0144},{"x":0.68,"s":0.04,"z":0.0128},{"x":0.72,"s":0.04,"z":0.0112},{"x":0.76,"s":0.04,"z":0.0096},{"x":0.8,"s":0.04,"z":0.008},{"x":0.84,"s":0.04,"z":0.0064},{"x":0.88,"s":0.04,"z":0.0048},{"x":0.92,"s":0.04,"z":0.0032},{"x":0.96,"s":0.04,"z":0.0016},{"x":1,"s":0.04,"z":0},
{"x":0,"s":0,"z":0},{"x":0.04,"s":0,"z":0},{"x":0.08,"s":0,"z":0},{"x":0.12,"s":0,"z":0},{"x":0.16,"s":0,"z":0},{"x":0.2,"s":0,"z":0},{"x":0.24,"s":0,"z":0},{"x":0.28,"s":0,"z":0},{"x":0.32,"s":0,"z":0},{"x":0.36,"s":0,"z":0},{"x":0.4,"s":0,"z":0},{"x":0.44,"s":0,"z":0},{"x":0.48,"s":0,"z":0},{"x":0.52,"s":0,"z":0},{"x":0.56,"s":0,"z":0},{"x":0.6,"s":0,"z":0},{"x":0.64,"s":0,"z":0},{"x":0.68,"s":0,"z":0},{"x":0.72,"s":0,"z":0},{"x":0.76,"s":0,"z":0},{"x":0.8,"s":0,"z":0},{"x":0.84,"s":0,"z":0},{"x":0.88,"s":0,"z":0},{"x":0.92,"s":0,"z":0},{"x":0.96,"s":0,"z":0},{"x":1,"s":0,"z":0}
]},
"encoding":{"x":{"field":"U","type":"quantitative","scale":{"domain":[-0.09493,0.09865],"nice":false,"zero":false},"axis":null},"y":{"field":"V","type":"quantitative","scale":{"domain":[-0.0974,0.09065],"nice":false,"zero":false},"axis":null}},
"resolve":{"scale":{"fill":"independent"}},
"layer":[
{"data":{"name":"guides"},"transform":[{"filter":"datum.kind=='pane'"},{"calculate":"(2*datum.x-1)*0.8727","as":"a"},{"calculate":"(2*datum.s-1)*0.8727","as":"b"},{"calculate":"(8*datum.z-1)*0.96-0.02","as":"c"},{"calculate":"10-(0.2474*datum.a-0.4286*datum.b+0.2143*datum.c)","as":"d"},{"calculate":"(0.4949*datum.a+0.2857*datum.b)/datum.d","as":"U"},{"calculate":"(-0.1429*datum.a+0.2474*datum.b+0.3712*datum.c)/datum.d","as":"V"}],
"mark":{"type":"line","interpolate":"linear-closed","stroke":"#ececec","strokeWidth":0.8},
"encoding":{"detail":{"field":"id"},"order":{"field":"k","type":"quantitative"},"fill":{"field":"id","type":"nominal","scale":{"domain":["a","b","c"],"range":["#f9f9f9","#f1f1f1","#f4f4f4"]},"legend":null}}},
{"data":{"name":"guides"},"transform":[{"filter":"datum.kind=='grid'"},{"calculate":"(2*datum.x-1)*0.8727","as":"a"},{"calculate":"(2*datum.s-1)*0.8727","as":"b"},{"calculate":"(8*datum.z-1)*0.96-0.02","as":"c"},{"calculate":"10-(0.2474*datum.a-0.4286*datum.b+0.2143*datum.c)","as":"d"},{"calculate":"(0.4949*datum.a+0.2857*datum.b)/datum.d","as":"U"},{"calculate":"(-0.1429*datum.a+0.2474*datum.b+0.3712*datum.c)/datum.d","as":"V"}],
"mark":{"type":"line","stroke":"#b8b8b8","strokeWidth":0.9},
"encoding":{"detail":{"field":"id"},"order":{"field":"k","type":"quantitative"}}},
{"data":{"name":"grid"},"transform":[{"calculate":"[0,1,2,3]","as":"v"},{"flatten":["v"]},{"calculate":"round(datum.x*25)-((datum.v==1||datum.v==2)?1:0)","as":"ci"},{"calculate":"round(datum.s*25)-(datum.v>=2?1:0)","as":"cj"},{"filter":"datum.ci>=0&&datum.ci<25&&datum.cj>=0&&datum.cj<25"},{"calculate":"datum.ci*100+datum.cj","as":"cell"},{"joinaggregate":[{"op":"mean","field":"z","as":"zm"}],"groupby":["cell"]},{"calculate":"(2*datum.x-1)*0.8727","as":"a"},{"calculate":"(2*datum.s-1)*0.8727","as":"b"},{"calculate":"(8*datum.z-1)*0.96-0.02","as":"c"},{"calculate":"10-(0.2474*datum.a-0.4286*datum.b+0.2143*datum.c)","as":"d"},{"calculate":"(0.4949*datum.a+0.2857*datum.b)/datum.d","as":"U"},{"calculate":"(-0.1429*datum.a+0.2474*datum.b+0.3712*datum.c)/datum.d","as":"V"}],
"mark":{"type":"line","interpolate":"linear-closed","strokeWidth":0.3},
"encoding":{"detail":{"field":"cell"},"order":{"field":"v","type":"quantitative"},"fill":{"field":"zm","type":"quantitative","scale":{"scheme":"inferno","domain":[0,0.24],"clamp":true},"legend":null},"stroke":{"field":"zm","type":"quantitative","scale":{"scheme":"inferno","domain":[0,0.24],"clamp":true},"legend":null}}},
{"data":{"name":"guides"},"transform":[{"filter":"datum.kind=='axis'"},{"calculate":"(2*datum.x-1)*0.8727","as":"a"},{"calculate":"(2*datum.s-1)*0.8727","as":"b"},{"calculate":"(8*datum.z-1)*0.96-0.02","as":"c"},{"calculate":"10-(0.2474*datum.a-0.4286*datum.b+0.2143*datum.c)","as":"d"},{"calculate":"(0.4949*datum.a+0.2857*datum.b)/datum.d","as":"U"},{"calculate":"(-0.1429*datum.a+0.2474*datum.b+0.3712*datum.c)/datum.d","as":"V"}],
"mark":{"type":"line","stroke":"#000000","strokeWidth":0.8},
"encoding":{"detail":{"field":"id"},"order":{"field":"k","type":"quantitative"}}},
{"data":{"name":"guides"},"transform":[{"filter":"datum.kind=='label'"},{"calculate":"(2*datum.x-1)*0.8727","as":"a"},{"calculate":"(2*datum.s-1)*0.8727","as":"b"},{"calculate":"(8*datum.z-1)*0.96-0.02","as":"c"},{"calculate":"10-(0.2474*datum.a-0.4286*datum.b+0.2143*datum.c)","as":"d"},{"calculate":"(0.4949*datum.a+0.2857*datum.b)/datum.d","as":"U"},{"calculate":"(-0.1429*datum.a+0.2474*datum.b+0.3712*datum.c)/datum.d","as":"V"}],
"mark":{"type":"text","font":"Liberation Serif","fontSize":13,"align":"center","baseline":"middle","color":"#000000"},
"encoding":{"text":{"field":"label"}}},
{"data":{"name":"guides"},"transform":[{"filter":"datum.kind=='title'"},{"calculate":"(2*datum.x-1)*0.8727","as":"a"},{"calculate":"(2*datum.s-1)*0.8727","as":"b"},{"calculate":"(8*datum.z-1)*0.96-0.02","as":"c"},{"calculate":"10-(0.2474*datum.a-0.4286*datum.b+0.2143*datum.c)","as":"d"},{"calculate":"(0.4949*datum.a+0.2857*datum.b)/datum.d","as":"U"},{"calculate":"(-0.1429*datum.a+0.2474*datum.b+0.3712*datum.c)/datum.d","as":"V"}],
"mark":{"type":"text","font":"Liberation Serif","fontStyle":"italic","fontSize":13,"align":"center","baseline":"middle","color":"#000000"},
"encoding":{"text":{"field":"label"}}}
]}
